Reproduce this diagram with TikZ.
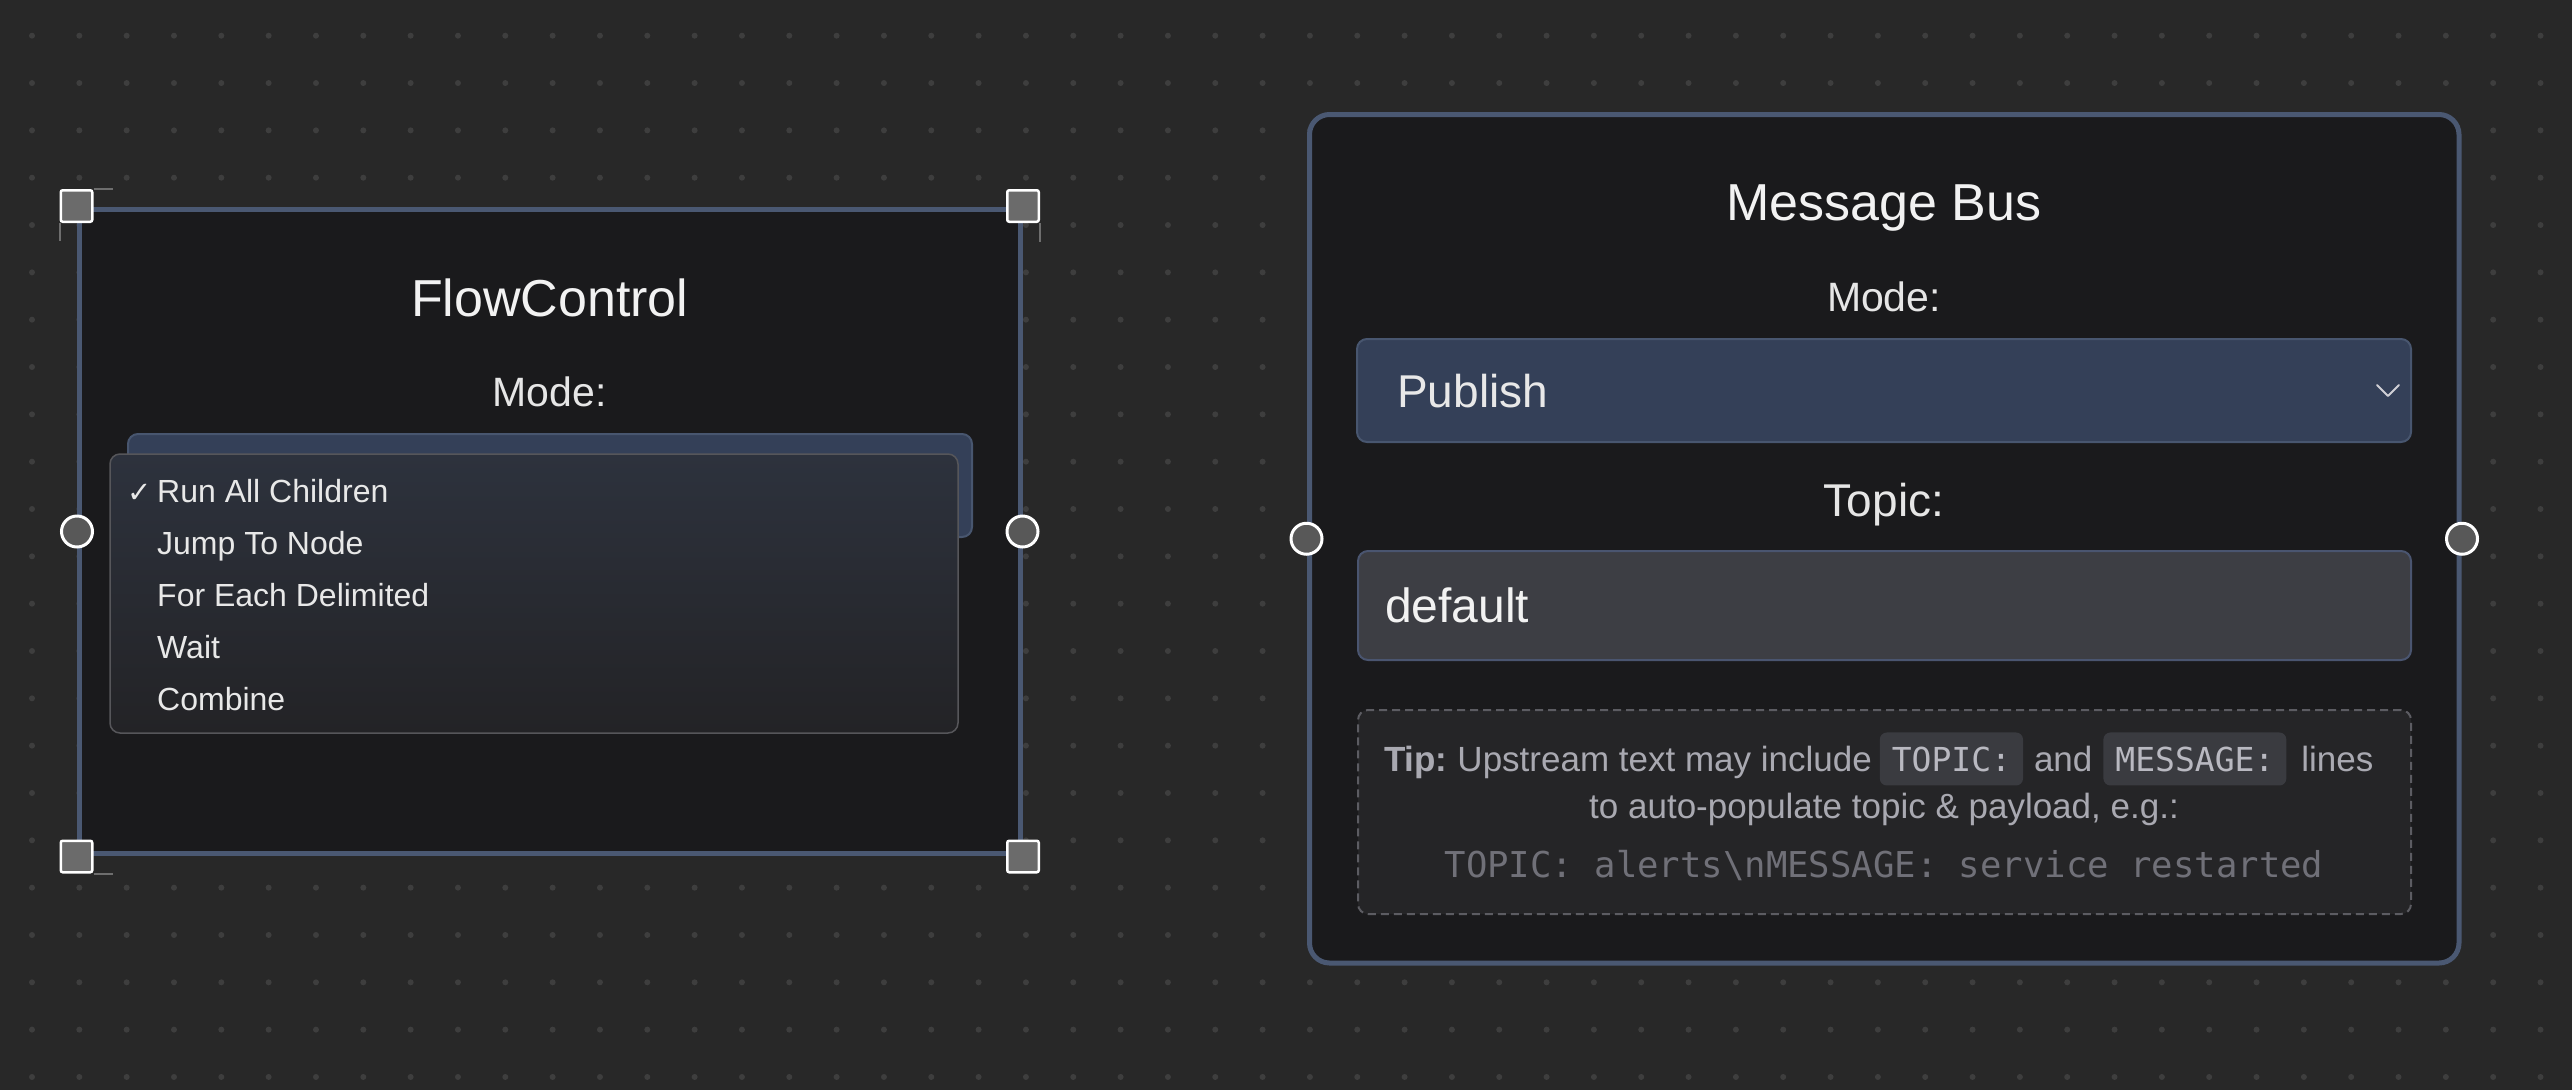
\documentclass[tikz,border=0pt]{standalone}
\usepackage{fontspec}
\setmainfont{Liberation Sans}
\setmonofont{DejaVu Sans Mono}
\newfontfamily\symfont{DejaVu Sans}
\usetikzlibrary{positioning}

\definecolor{bgcol}{HTML}{282828}
\definecolor{dotgray}{HTML}{3E3E3E}
\definecolor{nodefill}{HTML}{1A1A1C}
\definecolor{framecol}{HTML}{4A5872}
\definecolor{handlegray}{HTML}{6B6B6B}
\definecolor{portgray}{HTML}{585858}
\definecolor{markgray}{HTML}{6E6E6E}
\definecolor{titlecol}{HTML}{F2F2F2}
\definecolor{labelcol}{HTML}{E6E6E6}
\definecolor{selfill}{HTML}{344058}
\definecolor{selline}{HTML}{48566F}
\definecolor{inputfill}{HTML}{3D3E44}
\definecolor{inputline}{HTML}{4A5570}
\definecolor{tipfill}{HTML}{252527}
\definecolor{tipline}{HTML}{5C5C62}
\definecolor{tipgray}{HTML}{A9A9B1}
\definecolor{chipfill}{HTML}{3A3B40}
\definecolor{chipgray}{HTML}{B9B9C1}
\definecolor{codegray}{HTML}{707078}
\definecolor{menutop}{HTML}{2D323D}
\definecolor{menubot}{HTML}{232326}
\definecolor{menuline}{HTML}{56565A}
\definecolor{itemcol}{HTML}{E8E8E8}
\definecolor{chevcol}{HTML}{D0D0D6}

\newcommand\px[1]{\fontsize{#1}{#1}\selectfont}

\begin{document}
\begin{tikzpicture}
[x=1pt, y=-1pt,
 nodebox/.style={rectangle,draw=framecol,line width=5pt,fill=nodefill,inner sep=0pt},
 handle/.style={rectangle,draw=white,line width=2.5pt,fill=handlegray,rounded corners=2pt,inner sep=0pt,minimum size=31.5pt},
 port/.style={circle,draw=white,line width=3pt,fill=portgray,inner sep=0pt,minimum size=31pt},
 selmark/.style={draw=markgray,line width=2pt},
 nodetitle/.style={text=titlecol,font=\px{52},inner sep=0pt,anchor=base},
 fieldlabel/.style={text=labelcol,font=\px{41},inner sep=0pt,anchor=base},
 field/.style={rectangle,line width=2pt,rounded corners=10pt,inner sep=0pt},
 valuetext/.style={text=itemcol,font=\px{46},inner sep=0pt,anchor=base west},
 menuitem/.style={text=itemcol,font=\px{32},inner sep=0pt,anchor=base west},
 tiptext/.style={text=tipgray,font=\px{35},inner sep=0pt,outer sep=0pt},
 chip/.style={fill=chipfill,rounded corners=7pt,text=chipgray,font=\ttfamily\px{33},inner xsep=12pt,inner ysep=0pt,minimum height=53pt,outer sep=0pt},
 chevron/.style={draw=chevcol,line width=2pt,line cap=round,line join=round}]
% canvas
\fill[bgcol] (0,0) rectangle (2572,1090);
\useasboundingbox (0,0) rectangle (2572,1090);
\foreach \i in {0,...,53}
  \foreach \j in {0,...,22}
    \fill[dotgray] (32+47.33*\i,35.7+47.33*\j) circle (3pt);
% FlowControl
\node[nodebox,minimum width=940.5pt,minimum height=644pt] (flow) at (549.75,531.5) {};
\node[nodetitle]  (flowtitle) at (549.75,316) {FlowControl};
\node[fieldlabel] (flowmode)  at (549.75,406) {Mode:};
\node[field,fill=selfill,draw=selline,minimum width=844pt,minimum height=103pt] (flowsel) at (550,485.5) {};
\node[field,draw=menuline,line width=1.5pt,top color=menutop,bottom color=menubot,
      minimum width=848pt,minimum height=279pt] (menu) at (534,593.5) {};
\node[menuitem] (item1) at (157,502) {Run All Children};
\node[menuitem] (item2) at (157,554) {Jump To Node};
\node[menuitem] (item3) at (157,606) {For Each Delimited};
\node[menuitem] (item4) at (157,658) {Wait};
\node[menuitem] (item5) at (157,710) {Combine};
\node[menuitem,font=\symfont\px{29},anchor=base east] (check) at ([xshift=-5pt]item1.base west) {✓};
\node[handle] (hTL) at (  76.5,206)   {};
\node[handle] (hTR) at (1023,  206)   {};
\node[handle] (hBL) at (  76.5,856.5) {};
\node[handle] (hBR) at (1023,  856.5) {};
\draw[selmark] (hTL.north east) -- ++(19,0)
               (hTL.south west) -- ++(0,18)
               (hTR.south east) -- ++(0,19)
               (hBL.south east) -- ++(19,0);
\node[port] (flowin)  at (  77,  531.5) {};
\node[port] (flowout) at (1022.5,531.5) {};
% Message Bus
\node[nodebox,rounded corners=20pt,minimum width=1149.5pt,minimum height=848.5pt] (bus) at (1884.25,538.75) {};
\node[nodetitle]  (bustitle) at (1884,220) {Message Bus};
\node[fieldlabel] (busmode)  at (1884,311) {Mode:};
\node[field,fill=selfill,draw=selline,minimum width=1054pt,minimum height=103pt] (mode) at (1884,390.5) {};
\node[valuetext] (modeval) at (1397,407) {Publish};
\draw[chevron] (2377,385) -- (2388,396) -- (2399,385);
\node[fieldlabel,font=\px{46}] (bustopic) at (1884,516) {Topic:};
\node[field,fill=inputfill,draw=inputline,minimum width=1053pt,minimum height=109pt] (topic) at (1884.5,605.5) {};
\node[valuetext,font=\px{48},text=titlecol] (topicval) at (1385,622) {default};
\node[field,fill=tipfill,draw=tipline,dash pattern=on 8pt off 5pt,minimum width=1053pt,minimum height=204pt] (tip) at (1884.5,812) {};
\node[tiptext,anchor=base west] (tipa) at (1384,771) {\textbf{Tip:}\hspace{-3pt} Upstream text may include};
\node[chip,base right=8pt of tipa]    (chipa) {TOPIC:};
\node[tiptext,base right=11pt of chipa] (tipb) {and};
\node[chip,base right=11pt of tipb]   (chipb) {MESSAGE:};
\node[tiptext,base right=15pt of chipb] (tipc) {lines};
\node[tiptext,anchor=base] (tipd) at (1884,818) {to auto-populate topic \& payload, e.g.:};
\node[tiptext,text=codegray,font=\ttfamily\px{35.6},anchor=base] (tipe) at (1884,877) {TOPIC: alerts\textbackslash nMESSAGE: service restarted};
\node[port] (busin)  at (1306.5,538.75) {};
\node[port] (busout) at (2462,  538.75) {};
\end{tikzpicture}
\end{document}
